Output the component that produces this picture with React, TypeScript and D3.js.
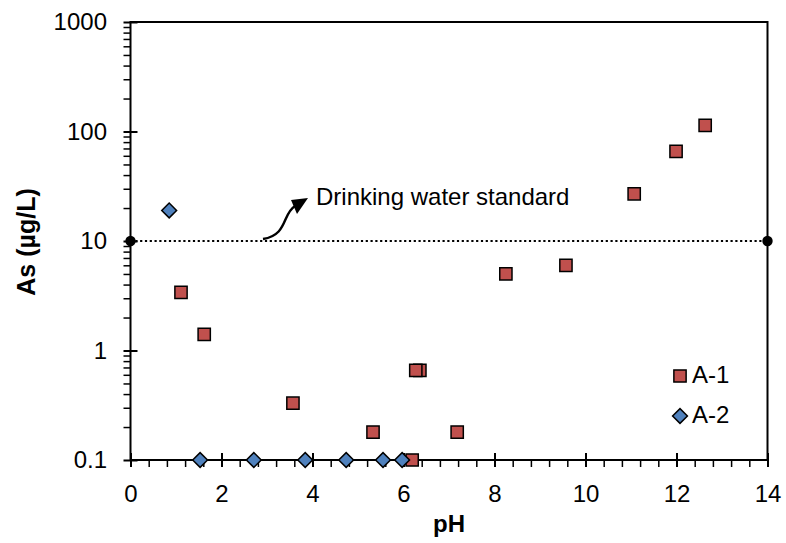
import React, { useEffect, useRef } from "react";
import * as d3 from "d3";

// A-1 (squares) and A-2 (diamonds), pH vs As (µg/L)
const a1Ph = [1.11, 1.62, 3.57, 5.33, 6.19, 6.36, 6.27, 7.18, 8.25, 9.57, 11.07, 11.99, 12.63];
const a1As = [3.4, 1.4, 0.33, 0.18, 0.1, 0.66, 0.66, 0.18, 5.0, 6.0, 27, 66, 114];
const a2Ph = [0.85, 1.53, 2.71, 3.84, 4.74, 5.55, 5.97];
const a2As = [19, 0.1, 0.1, 0.1, 0.1, 0.1, 0.1];

const xMajor = [0, 2, 4, 6, 8, 10, 12, 14];
const yMajor = [0.1, 1, 10, 100, 1000];
const yLabels = ["0.1", "1", "10", "100", "1000"];
const standard = 10;
const seriesNames = ["A-1", "A-2"];

const W = 786, H = 543;
const FONT = "'Liberation Sans', Arial, sans-serif";
const RED = "#C0504D", BLUE = "#4F81BD";

export default function App() {
  const ref = useRef<SVGSVGElement>(null);

  useEffect(() => {
    const svg = d3.select(ref.current);
    svg.selectAll("*").remove();

    const x = d3.scaleLinear().domain([0, 14]).range([130.5, 767.5]);
    const y = d3.scaleLog().domain([0.1, 1000]).range([460, 22]);

    // box
    svg.append("rect")
      .attr("x", x(0)).attr("y", y(1000))
      .attr("width", x(14) - x(0)).attr("height", y(0.1) - y(1000))
      .attr("fill", "none").attr("stroke", "#000").attr("stroke-width", 2);

    // x minor ticks (0.4 steps, below axis)
    const xMinor = d3.range(0, 70).map(i => i * 0.4).filter(v => v <= 14 && Math.abs(v / 2 - Math.round(v / 2)) > 0.01);
    svg.append("g").attr("transform", `translate(0,${y(0.1)})`)
      .call(d3.axisBottom(x).tickValues(xMinor).tickSize(7).tickFormat(() => ""))
      .call(g => g.select(".domain").remove())
      .call(g => g.selectAll(".tick line").attr("stroke-width", 1.5));

    // x major
    svg.append("g").attr("transform", `translate(0,${y(0.1)})`)
      .call(d3.axisBottom(x).tickValues(xMajor).tickSize(7).tickPadding(18).tickFormat(d3.format("d")))
      .call(g => g.select(".domain").remove())
      .call(g => g.selectAll(".tick line").attr("y1", -7).attr("y2", 7).attr("stroke-width", 2))
      .call(g => g.selectAll(".tick text").attr("font-size", 24).attr("font-family", FONT).attr("fill", "#000"));

    // y minor ticks
    const yMinor: number[] = [];
    [0.1, 1, 10, 100].forEach(d => { for (let k = 2; k <= 9; k++) yMinor.push(d * k); });
    svg.append("g").attr("transform", `translate(${x(0)},0)`)
      .call(d3.axisLeft(y).tickValues(yMinor).tickSize(7).tickFormat(() => ""))
      .call(g => g.select(".domain").remove())
      .call(g => g.selectAll(".tick line").attr("stroke-width", 1.5));

    // y major
    svg.append("g").attr("transform", `translate(${x(0)},0)`)
      .call(d3.axisLeft(y).tickValues(yMajor).tickSize(7).tickPadding(16.5).tickFormat((d, i) => yLabels[i]))
      .call(g => g.select(".domain").remove())
      .call(g => g.selectAll(".tick line").attr("x1", 7).attr("x2", -7).attr("stroke-width", 2))
      .call(g => g.selectAll(".tick text").attr("font-size", 24).attr("font-family", FONT).attr("fill", "#000"));

    // drinking water standard line
    svg.append("line")
      .attr("x1", x(0)).attr("x2", x(14)).attr("y1", y(standard)).attr("y2", y(standard))
      .attr("stroke", "#000").attr("stroke-width", 2.2).attr("stroke-dasharray", "2.2 2.6");
    svg.selectAll(".endpt").data([0, 14]).join("circle")
      .attr("cx", d => x(d)).attr("cy", y(standard)).attr("r", 5.2).attr("fill", "#000");

    // arrow + label
    svg.append("path")
      .attr("d", "M263,239 C288,235 282,214 295,206")
      .attr("fill", "none").attr("stroke", "#000").attr("stroke-width", 2.4);
    svg.append("path")
      .attr("d", "M308,198 L291,200 L297,214 Z").attr("fill", "#000");
    svg.append("text").attr("x", 316).attr("y", 205)
      .attr("font-size", 24).attr("font-family", FONT).text("Drinking water standard");

    // series
    const sq = d3.symbol().type(d3.symbolSquare).size(150);
    const dm = d3.symbol().type(d3.symbolSquare).size(110);
    svg.append("g").selectAll("path").data(a1Ph.map((p, i) => [p, a1As[i]])).join("path")
      .attr("d", sq).attr("transform", d => `translate(${x(d[0])},${y(d[1])})`)
      .attr("fill", RED).attr("stroke", "#000").attr("stroke-width", 1.5);
    svg.append("g").selectAll("path").data(a2Ph.map((p, i) => [p, a2As[i]])).join("path")
      .attr("d", dm).attr("transform", d => `translate(${x(d[0])},${y(d[1])}) rotate(45)`)
      .attr("fill", BLUE).attr("stroke", "#000").attr("stroke-width", 1.5);

    // legend
    const lg = svg.append("g");
    lg.append("path").attr("d", sq).attr("transform", "translate(680,376)")
      .attr("fill", RED).attr("stroke", "#000").attr("stroke-width", 1.5);
    lg.append("path").attr("d", dm).attr("transform", "translate(680,416) rotate(45)")
      .attr("fill", BLUE).attr("stroke", "#000").attr("stroke-width", 1.5);
    lg.selectAll("text").data(seriesNames).join("text")
      .attr("x", 692).attr("y", (d, i) => 383 + i * 40)
      .attr("font-size", 24).attr("font-family", FONT).text(d => d);

    // axis titles
    svg.append("text").attr("x", x(7)).attr("y", 532).attr("text-anchor", "middle")
      .attr("font-size", 24).attr("font-weight", "bold").attr("font-family", FONT).text("pH");
    svg.append("text").attr("transform", "translate(35,242) rotate(-90)").attr("text-anchor", "middle")
      .attr("font-size", 25).attr("font-weight", "bold").attr("font-family", FONT).text("As (µg/L)");
  }, []);

  return (
    <svg ref={ref} width={W} height={H}
      style={{ position: "absolute", left: 0, top: 0, background: "#fff" }} />
  );
}
